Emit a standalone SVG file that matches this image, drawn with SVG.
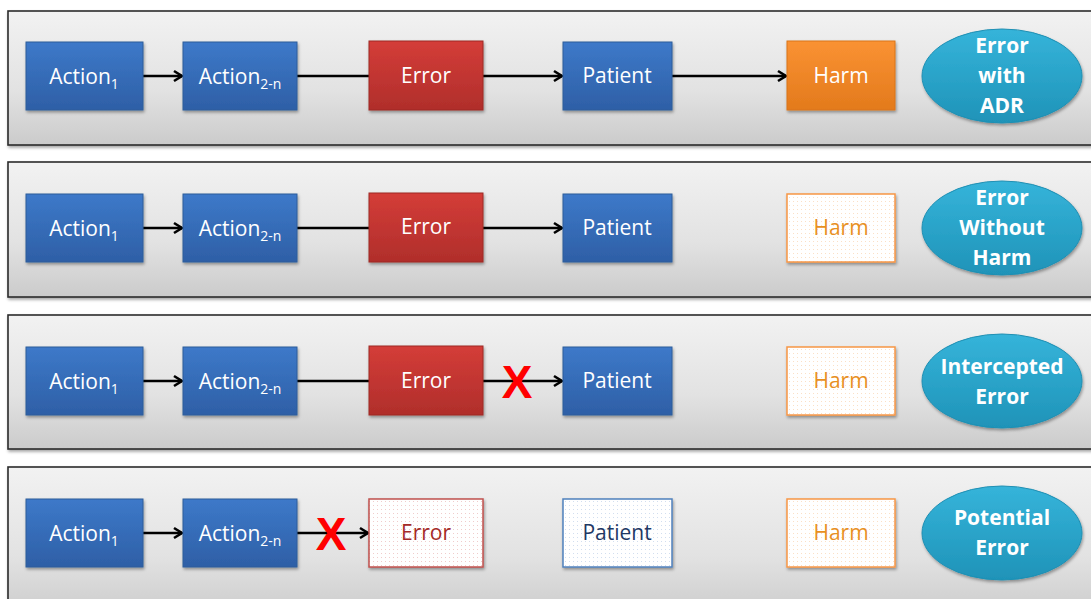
<svg xmlns="http://www.w3.org/2000/svg" width="1091" height="599" viewBox="0 0 1091 599">
<defs>
<linearGradient id="gPanel" x1="0" y1="0" x2="0" y2="1">
<stop offset="0" stop-color="#f2f2f2"/><stop offset="0.6" stop-color="#e2e2e2"/><stop offset="1" stop-color="#cbcbcb"/>
</linearGradient>
<linearGradient id="gBlue" x1="0" y1="0" x2="0" y2="1">
<stop offset="0" stop-color="#3d79c9"/><stop offset="1" stop-color="#2e5fa6"/>
</linearGradient>
<linearGradient id="gRed" x1="0" y1="0" x2="0" y2="1">
<stop offset="0" stop-color="#d43d38"/><stop offset="1" stop-color="#b02e2b"/>
</linearGradient>
<linearGradient id="gOrange" x1="0" y1="0" x2="0" y2="1">
<stop offset="0" stop-color="#fa9233"/><stop offset="1" stop-color="#e37a1c"/>
</linearGradient>
<linearGradient id="gEll" x1="0" y1="0" x2="0" y2="1">
<stop offset="0" stop-color="#35b4da"/><stop offset="1" stop-color="#1f93b8"/>
</linearGradient>
<pattern id="dotR" width="4" height="4" patternUnits="userSpaceOnUse"><rect width="4" height="4" fill="#ffffff"/><rect x="1" y="1" width="1" height="1" fill="#f0cccb"/></pattern>
<pattern id="dotB" width="4" height="4" patternUnits="userSpaceOnUse"><rect width="4" height="4" fill="#ffffff"/><rect x="1" y="1" width="1" height="1" fill="#d2deef"/></pattern>
<pattern id="dotO" width="4" height="4" patternUnits="userSpaceOnUse"><rect width="4" height="4" fill="#ffffff"/><rect x="1" y="1" width="1" height="1" fill="#fbe0c6"/></pattern>
<filter id="sh" x="-10%" y="-10%" width="130%" height="140%"><feDropShadow dx="1" dy="2" stdDeviation="1.5" flood-color="#000" flood-opacity="0.35"/></filter>
<marker id="arr" markerWidth="14" markerHeight="14" refX="11" refY="7" orient="auto" markerUnits="userSpaceOnUse">
<path d="M3,2 L11,7 L3,12" fill="none" stroke="#000" stroke-width="2.6" stroke-linejoin="miter"/>
</marker>
</defs>
<style>
.panel{fill:url(#gPanel);stroke:#2b2b2b;stroke-width:1.6}
.blue{fill:url(#gBlue);stroke:#2f5d9a;stroke-width:1}
.red{fill:url(#gRed);stroke:#9e2a27;stroke-width:1}
.orange{fill:url(#gOrange);stroke:#d9741a;stroke-width:1}
.ell{fill:url(#gEll);stroke:#1f8fb3;stroke-width:1}
.dr{fill:url(#dotR);stroke:#c0504d;stroke-width:1.5}
.db{fill:url(#dotB);stroke:#4f81bd;stroke-width:1.5}
.do{fill:url(#dotO);stroke:#f79646;stroke-width:1.5}
text{font-family:"Open Sans","Liberation Sans",sans-serif;font-size:21px;text-anchor:middle}
.w{fill:#ffffff}
.et{fill:#ffffff;font-weight:bold;font-size:21px}
.tr{fill:#a52a27}
.tb{fill:#1f3864}
.to{fill:#e8901f}
.sub{font-size:14px}
.ln{stroke:#000;stroke-width:2.5;fill:none}
.x{fill:#ff0000;font-family:"Liberation Sans",sans-serif;font-weight:bold;font-size:46px}
</style>

<g id="panel1">
<rect class="panel" x="8" y="11" width="1100" height="134" filter="url(#sh)"/>
</g>
<g id="panel2">
<rect class="panel" x="8" y="162" width="1100" height="135" filter="url(#sh)"/>
</g>
<g id="panel3">
<rect class="panel" x="8" y="315" width="1100" height="134" filter="url(#sh)"/>
</g>
<g id="panel4">
<rect class="panel" x="8" y="467" width="1100" height="150" filter="url(#sh)"/>
</g>

<g id="connectors">
<line class="ln" x1="143" y1="76" x2="182" y2="76" marker-end="url(#arr)"/>
<line class="ln" x1="297" y1="76" x2="369" y2="76"/>
<line class="ln" x1="483" y1="76" x2="562" y2="76" marker-end="url(#arr)"/>
<line class="ln" x1="672" y1="76" x2="786" y2="76" marker-end="url(#arr)"/>
<line class="ln" x1="143" y1="228" x2="182" y2="228" marker-end="url(#arr)"/>
<line class="ln" x1="297" y1="228" x2="369" y2="228"/>
<line class="ln" x1="483" y1="228" x2="562" y2="228" marker-end="url(#arr)"/>
<line class="ln" x1="143" y1="381" x2="182" y2="381" marker-end="url(#arr)"/>
<line class="ln" x1="297" y1="381" x2="369" y2="381"/>
<line class="ln" x1="483" y1="381" x2="562" y2="381" marker-end="url(#arr)"/>
<line class="ln" x1="143" y1="533" x2="182" y2="533" marker-end="url(#arr)"/>
<line class="ln" x1="297" y1="533" x2="368" y2="533" marker-end="url(#arr)"/>
</g>

<g id="row1">
<g id="r1-action1"><rect class="blue" x="26" y="42" width="117" height="68" filter="url(#sh)"/><text class="w" x="84" y="84">Action<tspan class="sub" dy="5">1</tspan></text></g>
<g id="r1-action2"><rect class="blue" x="183" y="42" width="114" height="68" filter="url(#sh)"/><text class="w" x="240" y="84">Action<tspan class="sub" dy="5">2-n</tspan></text></g>
<g id="r1-error"><rect class="red" x="369" y="41" width="114" height="69" filter="url(#sh)"/><text class="w" x="426" y="83">Error</text></g>
<g id="r1-patient"><rect class="blue" x="563" y="42" width="109" height="68" filter="url(#sh)"/><text class="w" x="617" y="83">Patient</text></g>
<g id="r1-harm"><rect class="orange" x="787" y="41" width="108" height="69" filter="url(#sh)"/><text class="w" x="841" y="83">Harm</text></g>
<g id="r1-label"><ellipse class="ell" cx="1002" cy="76" rx="80" ry="47" filter="url(#sh)"/><text class="et" x="1002" y="53">Error</text><text class="et" x="1002" y="83">with</text><text class="et" x="1002" y="113">ADR</text></g>
</g>

<g id="row2">
<g id="r2-action1"><rect class="blue" x="26" y="194" width="117" height="68" filter="url(#sh)"/><text class="w" x="84" y="236">Action<tspan class="sub" dy="5">1</tspan></text></g>
<g id="r2-action2"><rect class="blue" x="183" y="194" width="114" height="68" filter="url(#sh)"/><text class="w" x="240" y="236">Action<tspan class="sub" dy="5">2-n</tspan></text></g>
<g id="r2-error"><rect class="red" x="369" y="193" width="114" height="69" filter="url(#sh)"/><text class="w" x="426" y="234">Error</text></g>
<g id="r2-patient"><rect class="blue" x="563" y="194" width="109" height="68" filter="url(#sh)"/><text class="w" x="617" y="235">Patient</text></g>
<g id="r2-harm"><rect class="do" x="787" y="194" width="108" height="68" filter="url(#sh)"/><text class="to" x="841" y="235">Harm</text></g>
<g id="r2-label"><ellipse class="ell" cx="1002" cy="228" rx="80" ry="47" filter="url(#sh)"/><text class="et" x="1002" y="205">Error</text><text class="et" x="1002" y="235">Without</text><text class="et" x="1002" y="265">Harm</text></g>
</g>

<g id="row3">
<g id="r3-action1"><rect class="blue" x="26" y="347" width="117" height="68" filter="url(#sh)"/><text class="w" x="84" y="389">Action<tspan class="sub" dy="5">1</tspan></text></g>
<g id="r3-action2"><rect class="blue" x="183" y="347" width="114" height="68" filter="url(#sh)"/><text class="w" x="240" y="389">Action<tspan class="sub" dy="5">2-n</tspan></text></g>
<g id="r3-error"><rect class="red" x="369" y="346" width="114" height="69" filter="url(#sh)"/><text class="w" x="426" y="388">Error</text></g>
<g id="r3-x"><text class="x" x="517" y="398">X</text></g>
<g id="r3-patient"><rect class="blue" x="563" y="347" width="109" height="68" filter="url(#sh)"/><text class="w" x="617" y="388">Patient</text></g>
<g id="r3-harm"><rect class="do" x="787" y="347" width="108" height="68" filter="url(#sh)"/><text class="to" x="841" y="388">Harm</text></g>
<g id="r3-label"><ellipse class="ell" cx="1002" cy="381" rx="80" ry="47" filter="url(#sh)"/><text class="et" x="1002" y="374">Intercepted</text><text class="et" x="1002" y="404">Error</text></g>
</g>

<g id="row4">
<g id="r4-action1"><rect class="blue" x="26" y="499" width="117" height="68" filter="url(#sh)"/><text class="w" x="84" y="541">Action<tspan class="sub" dy="5">1</tspan></text></g>
<g id="r4-action2"><rect class="blue" x="183" y="499" width="114" height="68" filter="url(#sh)"/><text class="w" x="240" y="541">Action<tspan class="sub" dy="5">2-n</tspan></text></g>
<g id="r4-x"><text class="x" x="331" y="550">X</text></g>
<g id="r4-error"><rect class="dr" x="369" y="499" width="114" height="68" filter="url(#sh)"/><text class="tr" x="426" y="540">Error</text></g>
<g id="r4-patient"><rect class="db" x="563" y="499" width="109" height="68" filter="url(#sh)"/><text class="tb" x="617" y="540">Patient</text></g>
<g id="r4-harm"><rect class="do" x="787" y="499" width="108" height="68" filter="url(#sh)"/><text class="to" x="841" y="540">Harm</text></g>
<g id="r4-label"><ellipse class="ell" cx="1002" cy="533" rx="80" ry="47" filter="url(#sh)"/><text class="et" x="1002" y="525">Potential</text><text class="et" x="1002" y="555">Error</text></g>
</g>
</svg>
